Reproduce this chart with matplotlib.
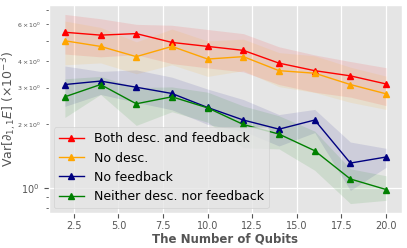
import numpy as np
import matplotlib
matplotlib.use("Agg")
import matplotlib.pyplot as plt

plt.style.use("ggplot")

qubits = [2, 4, 6, 8, 10, 12, 14, 16, 18, 20]

# mean variance (x 1e-3) and shaded band limits
both = [5.50, 5.33, 5.42, 4.92, 4.71, 4.51, 3.92, 3.61, 3.41, 3.12]
both_lo = [4.33, 4.20, 4.30, 3.90, 3.72, 3.56, 3.10, 2.85, 2.70, 2.46]
both_hi = [6.69, 6.38, 6.00, 5.94, 5.67, 5.42, 4.69, 4.29, 3.99, 3.73]

no_desc = [5.01, 4.71, 4.21, 4.71, 4.10, 4.21, 3.61, 3.51, 3.10, 2.80]
no_desc_lo = [3.85, 3.93, 3.49, 3.85, 3.39, 3.61, 3.03, 2.84, 2.55, 2.36]
no_desc_hi = [6.22, 5.80, 4.95, 5.70, 5.00, 5.10, 4.40, 4.25, 3.75, 3.40]

no_fb = [3.10, 3.22, 3.01, 2.81, 2.41, 2.10, 1.90, 2.10, 1.31, 1.40]
no_fb_lo = [2.44, 2.78, 2.55, 2.35, 2.00, 1.86, 1.58, 1.83, 0.97, 1.25]
no_fb_hi = [3.80, 3.58, 3.64, 3.36, 2.95, 2.63, 2.23, 2.36, 1.65, 1.54]

neither = [2.71, 3.10, 2.51, 2.71, 2.40, 2.00, 1.80, 1.50, 1.10, 0.98]
neither_lo = [2.16, 2.78, 1.98, 2.30, 2.05, 1.55, 1.53, 1.21, 0.84, 0.87]
neither_hi = [3.30, 3.39, 3.00, 3.02, 2.85, 2.45, 2.20, 1.86, 1.23, 1.14]

series = [
    ("Both desc. and feedback", "red", both, both_lo, both_hi),
    ("No desc.", "orange", no_desc, no_desc_lo, no_desc_hi),
    ("No feedback", "navy", no_fb, no_fb_lo, no_fb_hi),
    ("Neither desc. nor feedback", "green", neither, neither_lo, neither_hi),
]

fig = plt.figure(figsize=(4.07, 2.48), dpi=100)
ax = fig.add_axes([0.120, 0.141, 0.868, 0.839])

for name, col, m, lo, hi in series:
    ax.fill_between(qubits, lo, hi, color=col, alpha=0.1, linewidth=0)
    ax.plot(qubits, m, color=col, marker="^", markersize=4, linewidth=1, label=name)

ax.set_yscale("log")
ax.grid(True, which="major", color="white", linewidth=0.9)
ax.tick_params(axis="x", labelsize=7, pad=2)
ax.tick_params(axis="y", which="major", labelsize=7)
ax.tick_params(axis="y", which="minor", labelsize=4.5)

ax.set_xlabel("The Number of Qubits", fontsize=8.5, fontweight="bold", labelpad=1)
ax.set_ylabel(r"Var$[\partial_{1,1}E]$ $(\times 10^{-3})$", fontsize=9)
ax.yaxis.set_label_coords(-0.085, 0.5)

ax.legend(loc="lower left", fontsize=9, frameon=True, borderaxespad=0.4)

fig.savefig("out.png", dpi=100)
